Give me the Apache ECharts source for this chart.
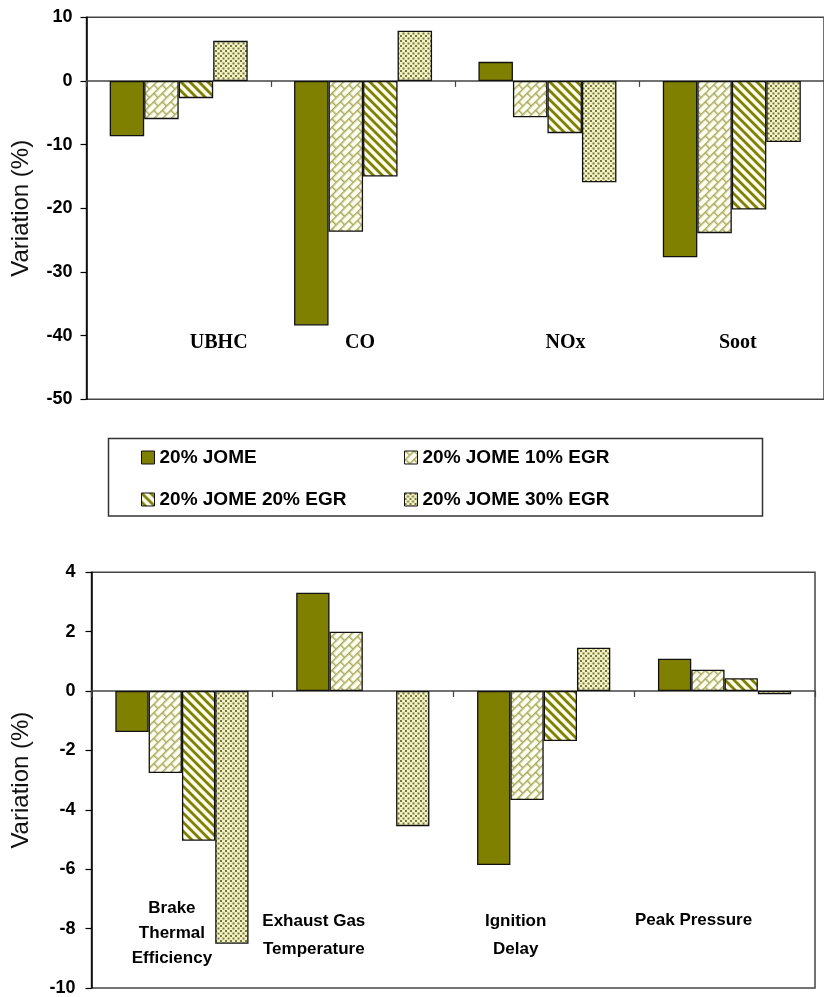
<!DOCTYPE html>
<html>
<head>
<meta charset="utf-8">
<script src="https://cdn.jsdelivr.net/npm/echarts@6/dist/echarts.min.js"></script>
<style>
  html, body { margin: 0; padding: 0; background: #fff; }
  #chart { width: 824px; height: 997px; }
</style>
</head>
<body>
<div id="chart"></div>
<script>
// Series (fuel / EGR blends)
const seriesNames = ['20% JOME', '20% JOME 10% EGR', '20% JOME 20% EGR', '20% JOME 30% EGR'];

// Upper panel: emissions variation (%)
const emissionCategories = ['UBHC', 'CO', 'NOx', 'Soot'];
const emissionJome   = [-8.7, -38.4, 3.0, -27.7];
const emissionEgr10  = [-6.0, -23.7, -5.7, -23.9];
const emissionEgr20  = [-2.7, -15.0, -8.2, -20.2];
const emissionEgr30  = [6.3, 7.9, -15.9, -9.6];
const emissionTicks  = { min: -50, max: 10, step: 10 };

// Lower panel: performance variation (%)
const perfCategories = ['Brake\nThermal\nEfficiency', 'Exhaust Gas\nTemperature', 'Ignition\nDelay', 'Peak Pressure'];
const perfJome  = [-1.38, 3.31, -5.86, 1.09];
const perfEgr10 = [-2.76, 2.0, -3.67, 0.72];
const perfEgr20 = [-5.04, null, -1.68, 0.43];
const perfEgr30 = [-8.51, -4.55, 1.46, -0.11];
const perfTicks = { min: -10, max: 4, step: 2 };

// Category captions sit inside the plot, at a value level, nudged sideways (px)
const emissionCaptionY = -41.1;
const emissionCaptionShift = [40, -3, 18, 6];
const perfCaptionY = [-8.15, -8.21, -8.21, -7.73];
const perfCaptionShift = [-10, -49, -28, -31];
const perfCaptionLineHeight = [25, 28, 28, 28];

const OLIVE = '#808000';

function makeTile(w, h, draw) {
  const c = document.createElement('canvas');
  c.width = w; c.height = h;
  draw(c.getContext('2d'), w, h);
  return c;
}

// diagonal brick
const brickTile = makeTile(12, 12, (g, w, h) => {
  g.fillStyle = '#fdfdf1'; g.fillRect(0, 0, w, h);
  g.strokeStyle = '#aaaa5c'; g.lineWidth = 1.5;
  g.beginPath();
  g.moveTo(0, 0.7); g.lineTo(w, 0.7);
  g.moveTo(0, 6.7); g.lineTo(w, 6.7);
  g.moveTo(0.7, 0); g.lineTo(0.7, 6.7);
  g.moveTo(6.7, 6.7); g.lineTo(6.7, 12);
  g.stroke();
});
// wide downward diagonal stripes
const stripeTile = makeTile(9, 9, (g, w, h) => {
  g.fillStyle = '#fcfcef'; g.fillRect(0, 0, w, h);
  g.strokeStyle = OLIVE; g.lineWidth = 2.8;
  g.beginPath();
  for (const k of [-9, 0, 9]) { g.moveTo(k - 2, -2); g.lineTo(k + 11, 11); }
  g.stroke();
});
// stipple dots
const dotTile = makeTile(5, 5, (g, w, h) => {
  g.fillStyle = '#f2f2c4'; g.fillRect(0, 0, w, h);
  g.fillStyle = '#77773c';
  g.fillRect(0, 0, 2, 2);
  g.fillRect(2.5, 2.5, 2, 2);
});

const fills = [
  OLIVE,
  { image: brickTile, repeat: 'repeat', rotation: -Math.PI / 4 },
  { image: stripeTile, repeat: 'repeat' },
  { image: dotTile, repeat: 'repeat' }
];

const SANS = '"Liberation Sans", Arial, sans-serif';
const SERIF = '"Liberation Serif", "Times New Roman", serif';

function barSeries(name, data, idx, axisIdx, width) {
  return {
    name, type: 'bar', data,
    xAxisIndex: axisIdx, yAxisIndex: axisIdx,
    barWidth: width, barGap: '0%',
    itemStyle: { color: fills[idx], borderColor: '#111', borderWidth: 1.3 },
    emphasis: { disabled: true },
    animation: false
  };
}

function captionSeries(axisIdx, cats, yVals, shifts, font, lineHeights) {
  return {
    type: 'scatter', xAxisIndex: axisIdx, yAxisIndex: axisIdx,
    symbolSize: 0, silent: true, z: 10, animation: false,
    itemStyle: { color: '#000', opacity: 1 },
    data: cats.map((c, i) => ({
      value: [i, Array.isArray(yVals) ? yVals[i] : yVals],
      label: { offset: [shifts[i], 0], lineHeight: lineHeights ? lineHeights[i] : undefined }
    })),
    label: Object.assign({
      show: true, position: 'inside', color: '#000', opacity: 1, textBorderWidth: 0,
      formatter: p => cats[p.dataIndex]
    }, font)
  };
}

function valueAxis(gridIndex, ticks, margin, nameGap) {
  return {
    type: 'value', gridIndex,
    min: ticks.min, max: ticks.max, interval: ticks.step,
    axisLine: { show: true, lineStyle: { color: '#000', width: 1.5 } },
    axisTick: { show: true, length: 6, lineStyle: { color: '#000', width: 1.2 } },
    splitLine: { show: false },
    axisLabel: { margin, color: '#000', fontFamily: SANS, fontWeight: 'bold', fontSize: 18 },
    name: 'Variation (%)', nameLocation: 'middle', nameRotate: 90, nameGap,
    nameTextStyle: { fontFamily: SANS, fontSize: 24, color: '#111' }
  };
}

function categoryAxis(gridIndex, cats) {
  return {
    type: 'category', gridIndex, data: cats,
    axisLine: { onZero: true, lineStyle: { color: '#444', width: 1.5 } },
    axisTick: { show: true, length: 6, lineStyle: { color: '#444', width: 1.2 } },
    axisLabel: { show: false },
    splitLine: { show: false }
  };
}

const legendText = { fontFamily: SANS, fontWeight: 'bold', fontSize: 19, color: '#000' };
function legendBlock(names, left) {
  return {
    data: names.map(n => ({ name: n, icon: 'rect' })), orient: 'vertical', left, top: 443,
    itemWidth: 13, itemHeight: 13, itemGap: 23, selectedMode: false,
    itemStyle: { borderColor: '#111', borderWidth: 1 },
    textStyle: legendText
  };
}

const chart = echarts.init(document.getElementById('chart'), null, { renderer: 'canvas' });
chart.setOption({
  animation: false,
  backgroundColor: '#fff',
  grid: [
    { left: 86.5, top: 17.3, width: 746, height: 382, show: true, borderColor: '#444', borderWidth: 1.5 },
    { left: 91.5, top: 572.3, width: 723.5, height: 416.4, show: true, borderColor: '#444', borderWidth: 1.5 }
  ],
  xAxis: [categoryAxis(0, emissionCategories), categoryAxis(1, perfCategories)],
  yAxis: [valueAxis(0, emissionTicks, 14, 53), valueAxis(1, perfTicks, 16, 58)],
  legend: [legendBlock([seriesNames[0], seriesNames[2]], 136), legendBlock([seriesNames[1], seriesNames[3]], 399)],
  graphic: [{
    type: 'rect', shape: { x: 108.5, y: 438.5, width: 654, height: 77.5 },
    style: { fill: 'none', stroke: '#333', lineWidth: 1.5 }, silent: true
  }],
  series: [
    barSeries(seriesNames[0], emissionJome, 0, 0, 34.5),
    barSeries(seriesNames[1], emissionEgr10, 1, 0, 34.5),
    barSeries(seriesNames[2], emissionEgr20, 2, 0, 34.5),
    barSeries(seriesNames[3], emissionEgr30, 3, 0, 34.5),
    barSeries(seriesNames[0], perfJome, 0, 1, 33.3),
    barSeries(seriesNames[1], perfEgr10, 1, 1, 33.3),
    barSeries(seriesNames[2], perfEgr20, 2, 1, 33.3),
    barSeries(seriesNames[3], perfEgr30, 3, 1, 33.3),
    captionSeries(0, emissionCategories, emissionCaptionY, emissionCaptionShift,
      { fontFamily: SERIF, fontWeight: 'bold', fontSize: 20 }),
    captionSeries(1, perfCategories, perfCaptionY, perfCaptionShift,
      { fontFamily: SANS, fontWeight: 'bold', fontSize: 17, align: 'center' }, perfCaptionLineHeight)
  ]
});
</script>
</body>
</html>
